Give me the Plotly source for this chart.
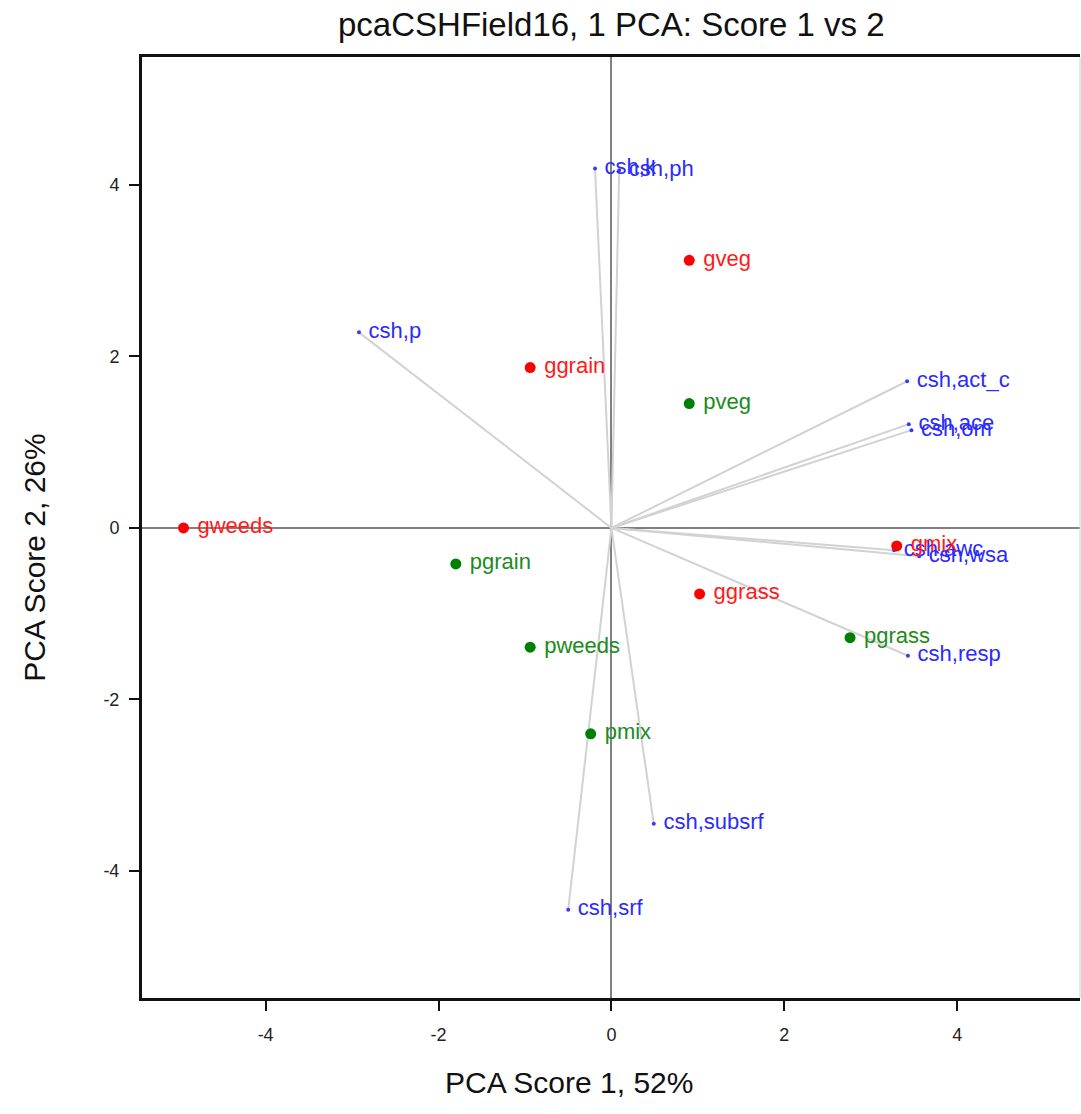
import plotly.graph_objects as go

# Sample scores (PC1, PC2)
g_names = ["gweeds", "ggrain", "gveg", "ggrass", "gmix"]
g_pc1 = [-4.95, -0.94, 0.90, 1.02, 3.30]
g_pc2 = [0.00, 1.87, 3.12, -0.77, -0.21]

p_names = ["pgrain", "pveg", "pweeds", "pmix", "pgrass"]
p_pc1 = [-1.80, 0.90, -0.94, -0.24, 2.76]
p_pc2 = [-0.42, 1.45, -1.39, -2.40, -1.28]

# Variable loadings (scaled), drawn as vectors from the origin
v_names = ["csh,k", "csh,ph", "csh,p", "csh,act_c", "csh,ace", "csh,om",
           "csh,awc", "csh,wsa", "csh,resp", "csh,subsrf", "csh,srf"]
v_pc1 = [-0.19, 0.09, -2.92, 3.42, 3.44, 3.47, 3.27, 3.56, 3.43, 0.49, -0.50]
v_pc2 = [4.19, 4.17, 2.28, 1.71, 1.21, 1.14, -0.26, -0.33, -1.49, -3.45, -4.45]

x_ticks = [-4, -2, 0, 2, 4]
y_ticks = [-4, -2, 0, 2, 4]

LABEL_FONT = "Liberation Sans, Arial, sans-serif"


def padded(names):
    # small gap between a point and its label
    return [" " + n for n in names]


fig = go.Figure()

# loading vectors
vx, vy = [], []
for a, b in zip(v_pc1, v_pc2):
    vx += [0, a, None]
    vy += [0, b, None]
fig.add_trace(go.Scatter(x=vx, y=vy, mode="lines",
                         line=dict(color="#d2d2d2", width=2),
                         hoverinfo="skip", showlegend=False))

fig.add_trace(go.Scatter(x=v_pc1, y=v_pc2, mode="markers+text", text=padded(v_names),
                         textposition="middle right",
                         marker=dict(color="#3a3aff", size=4),
                         textfont=dict(color="#2b2bff", size=22, family=LABEL_FONT),
                         showlegend=False))

fig.add_trace(go.Scatter(x=g_pc1, y=g_pc2, mode="markers+text", text=padded(g_names),
                         textposition="middle right",
                         marker=dict(color="#ff0000", size=11),
                         textfont=dict(color="#ff1a1a", size=22, family=LABEL_FONT),
                         showlegend=False))

fig.add_trace(go.Scatter(x=p_pc1, y=p_pc2, mode="markers+text", text=padded(p_names),
                         textposition="middle right",
                         marker=dict(color="#008000", size=11),
                         textfont=dict(color="#1a8c1a", size=22, family=LABEL_FONT),
                         showlegend=False))

fig.update_layout(
    width=1081, height=1114,
    margin=dict(l=142, r=1, t=57, b=116),
    paper_bgcolor="white", plot_bgcolor="white",
    font=dict(family=LABEL_FONT, color="black"),
    title=dict(text="pcaCSHField16, 1 PCA: Score 1 vs 2",
               font=dict(family=LABEL_FONT, size=33, color="#111"),
               x=0.5655, xanchor="center", y=0.978, yanchor="middle"),
    xaxis=dict(range=[-5.43, 5.42], tickvals=x_ticks, ticktext=[str(v) for v in x_ticks],
               showgrid=False, zeroline=True, zerolinecolor="#808080", zerolinewidth=2,
               showline=True, mirror=True, linecolor="#111", linewidth=3,
               ticks="outside", ticklen=10, tickwidth=2, tickcolor="#111",
               tickfont=dict(size=18, color="#222"), ticklabelstandoff=8),
    yaxis=dict(range=[-5.48, 5.49], tickvals=y_ticks, ticktext=[str(v) for v in y_ticks],
               showgrid=False, zeroline=True, zerolinecolor="#808080", zerolinewidth=2,
               showline=True, mirror=False, linecolor="#111", linewidth=3,
               ticks="outside", ticklen=10, tickwidth=2, tickcolor="#111",
               tickfont=dict(size=18, color="#222"), ticklabelstandoff=6),
)

# light right edge of the frame
fig.add_shape(type="line", xref="paper", yref="paper", x0=1, x1=1, y0=0, y1=1,
              line=dict(color="#d0d0d0", width=1))

# axis titles
fig.add_annotation(text="PCA Score 1, 52%", xref="paper", yref="paper",
                   x=0.455, y=-0.09, xanchor="center", yanchor="middle", showarrow=False,
                   font=dict(family=LABEL_FONT, size=30, color="#111"))
fig.add_annotation(text="PCA Score 2, 26%", xref="paper", yref="paper",
                   x=-0.115, y=0.468, xanchor="center", yanchor="middle", showarrow=False,
                   textangle=-90,
                   font=dict(family=LABEL_FONT, size=30, color="#111"))

fig.write_html("out.html")
